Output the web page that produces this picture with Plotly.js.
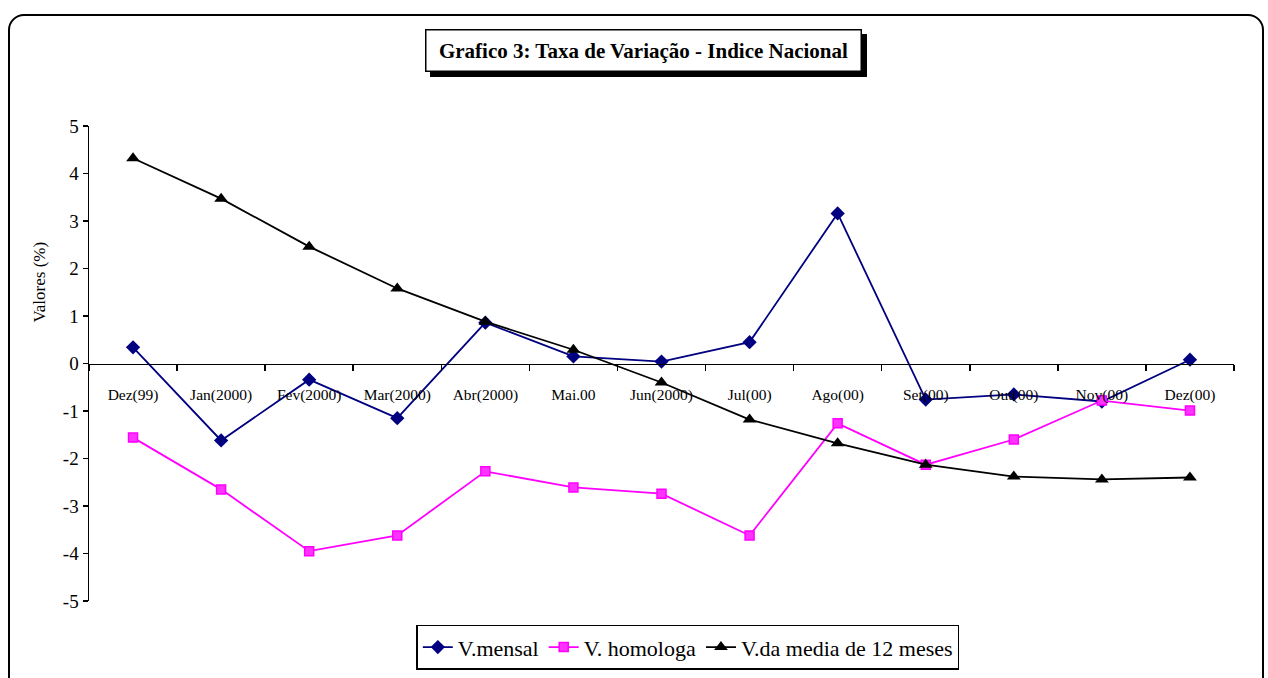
<!DOCTYPE html>
<html>
<head>
<meta charset="utf-8">
<script src="https://cdn.plot.ly/plotly-3.0.1.min.js"></script>
<style>
  html, body { margin: 0; padding: 0; background: #fff; overflow: hidden; }
  #wrap { position: relative; width: 1268px; height: 678px; }
  #frame { position: absolute; left: 8px; top: 14px; width: 1256px; height: 690px;
           border: 2px solid #000; border-radius: 16px; box-sizing: border-box; pointer-events: none; z-index: 2; }
  #chart { position: absolute; left: 0; top: 0; width: 1268px; height: 678px; }
</style>
</head>
<body>
<div id="wrap">
  <div id="chart"></div>
  <div id="frame"></div>
</div>
<script>
const categories = ["Dez(99)", "Jan(2000)", "Fev(2000)", "Mar(2000)", "Abr(2000)", "Mai.00",
                    "Jun(2000)", "Jul(00)", "Ago(00)", "Set(00)", "Out(00)", "Nov(00)", "Dez(00)"];
const vMensal   = [0.34, -1.62, -0.34, -1.15, 0.86, 0.15, 0.04, 0.45, 3.16, -0.76, -0.65, -0.80, 0.08];
const vHomologa = [-1.56, -2.65, -3.95, -3.62, -2.27, -2.61, -2.74, -3.62, -1.26, -2.13, -1.60, -0.78, -0.99];
const vMedia12  = [4.32, 3.47, 2.46, 1.58, 0.88, 0.29, -0.40, -1.18, -1.68, -2.13, -2.38, -2.44, -2.40];
const seriesNames = ["V.mensal", "V. homologa", "V.da media de 12 meses"];
const yTicks = [5, 4, 3, 2, 1, 0, -1, -2, -3, -4, -5];
const chartTitle = "Grafico 3: Taxa de Variação - Indice Nacional";
const yTitle = "Valores (%)";

const serif = "Liberation Serif, Times New Roman, serif";

const traces = [
  { x: categories, y: vMensal, name: seriesNames[0], type: "scatter", mode: "lines+markers",
    line: { color: "#000080", width: 1.8 },
    marker: { symbol: "diamond", size: 11, color: "#000080" } },
  { x: categories, y: vHomologa, name: seriesNames[1], type: "scatter", mode: "lines+markers",
    line: { color: "#FF00FF", width: 1.8 },
    marker: { symbol: "square", size: 9, color: "#FF33FF", line: { color: "#FF00FF", width: 1.5 } } },
  { x: categories, y: vMedia12, name: seriesNames[2], type: "scatter", mode: "lines+markers",
    line: { color: "#000000", width: 1.8 },
    marker: { symbol: "triangle-up", size: 12, color: "#000000" } }
];

const layout = {
  width: 1268, height: 678,
  margin: { l: 89, r: 34, t: 126, b: 77, autoexpand: false },
  paper_bgcolor: "#fff", plot_bgcolor: "rgba(0,0,0,0)",
  font: { family: serif, color: "#000" },
  showlegend: true,
  legend: {
    orientation: "h", x: 0.523, xanchor: "center", y: -0.05, yanchor: "top",
    bordercolor: "#000", borderwidth: 1.5, bgcolor: "#fff",
    font: { family: serif, size: 22, color: "#000" },
    tracegroupgap: 0
  },
  xaxis: {
    type: "category", categoryorder: "array", categoryarray: categories,
    range: [-0.5, categories.length - 0.5],
    anchor: "free", position: 0.5,
    showline: true, linecolor: "#000", linewidth: 1.5,
    ticks: "outside", tickson: "boundaries", ticklen: 6, tickwidth: 1.5, tickcolor: "#000",
    showgrid: false, zeroline: false,
    tickfont: { family: serif, size: 15.5, color: "#000" },
    ticklabelstandoff: 16, tickangle: 0, fixedrange: true
  },
  yaxis: {
    range: [-5, 5], tickvals: yTicks, ticktext: yTicks.map(String),
    showline: true, linecolor: "#000", linewidth: 1.5,
    ticks: "outside", ticklen: 5, tickwidth: 1.5, tickcolor: "#000",
    showgrid: false, zeroline: false,
    tickfont: { family: serif, size: 19, color: "#000" },
    fixedrange: true
  },
  annotations: [
    { text: " ", xref: "paper", yref: "paper",
      x: 0.484, y: 1.16, xanchor: "center", yanchor: "middle",
      xshift: 5, yshift: -5, showarrow: false, width: 430, height: 36,
      font: { family: serif, size: 21, color: "#000" },
      bgcolor: "#000", bordercolor: "#000", borderwidth: 1.5, borderpad: 2 },
    { text: "<b>" + chartTitle + "</b>", xref: "paper", yref: "paper",
      x: 0.484, y: 1.16, xanchor: "center", yanchor: "middle",
      showarrow: false, width: 430, height: 36,
      font: { family: serif, size: 21, color: "#000" },
      bgcolor: "#fff", bordercolor: "#000", borderwidth: 1.5, borderpad: 2 },
    { text: yTitle, xref: "paper", yref: "paper", x: -0.043, y: 0.672,
      xanchor: "center", yanchor: "middle", textangle: -90, showarrow: false,
      font: { family: serif, size: 17, color: "#000" } }
  ]
};

Plotly.newPlot("chart", traces, layout, { displayModeBar: false, staticPlot: true });
</script>
</body>
</html>
